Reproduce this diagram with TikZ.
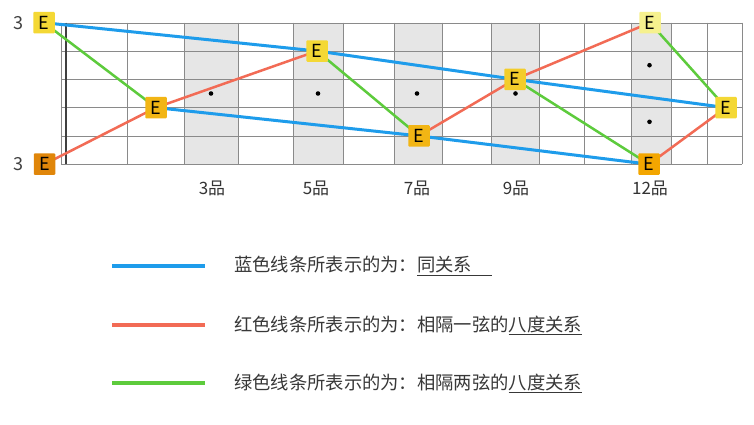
\documentclass[tikz,border=0pt]{standalone}
\usepackage{fontspec}
\setmainfont{Noto Sans CJK SC}
\usetikzlibrary{backgrounds}
\definecolor{lineblue}{HTML}{1E9CEB}
\definecolor{linered}{HTML}{F26B55}
\definecolor{linegreen}{HTML}{5DCB3C}
\definecolor{gridgray}{HTML}{8A8A8A}
\definecolor{fretshade}{HTML}{E6E6E6}
\definecolor{eyellow}{HTML}{F4D835}
\definecolor{epale}{HTML}{F6F18E}
\definecolor{egold}{HTML}{F2B514}
\definecolor{eorange}{HTML}{F3A600}
\definecolor{edark}{HTML}{E0860A}

\begin{document}
\begin{tikzpicture}[x=1pt,y=-1pt,
  ebox/.style={minimum size=21.5pt,inner sep=0pt,rounded corners=1pt,font=\fontsize{18}{18}\selectfont},
  numlab/.style={font=\fontsize{18}{18}\selectfont,text=black!75},
  fretlab/.style={font=\fontsize{17}{17}\selectfont,text=black!80},
  legtext/.style={anchor=west,inner sep=0pt,font=\fontsize{18.3}{18.3}\selectfont,text=black!78},
  blueline/.style={lineblue,line width=3pt},
  redline/.style={linered,line width=2.5pt},
  greenline/.style={linegreen,line width=2.5pt}]
   \useasboundingbox (0,0) rectangle (754,424);
   \begin{scope}[on background layer]
   \fill [white] (0,0) rectangle (754,424);
   \fill [fretshade] (184,22.7) rectangle (238,164.2);
   \fill [fretshade] (292.7,22.7) rectangle (342.7,164.2);
   \fill [fretshade] (394,22.7) rectangle (441.7,164.2);
   \fill [fretshade] (491,22.7) rectangle (539.3,164.2);
   \fill [fretshade] (630.7,22.7) rectangle (670.7,164.2);
   \draw [gridgray] (61,22.7) -- (741.7,22.7);
   \draw [gridgray] (61,51) -- (741.7,51);
   \draw [gridgray] (61,79.3) -- (741.7,79.3);
   \draw [gridgray] (61,107.6) -- (741.7,107.6);
   \draw [gridgray] (61,135.9) -- (741.7,135.9);
   \draw [gridgray] (61,164.2) -- (741.7,164.2);
   \draw [gridgray] (61,22.7) -- (61,164.2);
   \draw [black!75, line width=2.5pt] (66,22.7) -- (66,164.2);
   \draw [gridgray] (127,22.7) -- (127,164.2);
   \draw [gridgray] (184,22.7) -- (184,164.2);
   \draw [gridgray] (238,22.7) -- (238,164.2);
   \draw [gridgray] (292.7,22.7) -- (292.7,164.2);
   \draw [gridgray] (342.7,22.7) -- (342.7,164.2);
   \draw [gridgray] (394,22.7) -- (394,164.2);
   \draw [gridgray] (441.7,22.7) -- (441.7,164.2);
   \draw [gridgray] (491,22.7) -- (491,164.2);
   \draw [gridgray] (539.3,22.7) -- (539.3,164.2);
   \draw [gridgray] (584,22.7) -- (584,164.2);
   \draw [gridgray] (630.7,22.7) -- (630.7,164.2);
   \draw [gridgray] (670.7,22.7) -- (670.7,164.2);
   \draw [gridgray] (707.3,22.7) -- (707.3,164.2);
   \draw [gridgray] (741.7,22.7) -- (741.7,164.2);
   \fill (211,93.5) circle (2.3);
   \fill (318,93.5) circle (2.3);
   \fill (417,93.5) circle (2.3);
   \fill (515.5,93.5) circle (2.3);
   \fill (649.5,65.2) circle (2.3);
   \fill (649.5,121.8) circle (2.3);
   \end{scope}
   \node [numlab] (topnum) at (18,22.7) {3};
   \node [numlab] (botnum) at (18,164.2) {3};
   \node [ebox, fill=eyellow] (eA) at (44,22.7) {E};
   \node [ebox, fill=edark] (eB) at (44.5,164.2) {E};
   \node [ebox, fill=egold] (eC) at (156,107.6) {E};
   \node [ebox, fill=eyellow] (eD) at (317,51) {E};
   \node [ebox, fill=egold] (eE) at (419,135.9) {E};
   \node [ebox, fill=eyellow!70!egold] (eF) at (515,79.3) {E};
   \node [ebox, fill=epale] (eG) at (650,22.7) {E};
   \node [ebox, fill=eyellow] (eH) at (726,107.6) {E};
   \node [ebox, fill=eorange] (eI) at (649,164.2) {E};
   \node [fretlab] (f3) at (212,188) {3品};
   \node [fretlab] (f5) at (316,188) {5品};
   \node [fretlab] (f7) at (417,188) {7品};
   \node [fretlab] (f9) at (516,188) {9品};
   \node [fretlab] (f12) at (650,188) {12品};
   \begin{scope}[on background layer]
   \draw [blueline] (eA.center) -- (eD.center) -- (eF.center) -- (eH.center);
   \draw [blueline] (eC.center) -- (eE.center) -- (eI.center);
   \draw [redline] (eB.center) -- (eC.center) -- (eD.center);
   \draw [redline] (eE.center) -- (eF.center) -- (eG.center);
   \draw [redline] (eI.center) -- (eH.center);
   \draw [greenline] (eA.center) -- (eC.center);
   \draw [greenline] (eD.center) -- (eE.center);
   \draw [greenline] (eF.center) -- (eI.center);
   \draw [greenline] (eG.center) -- (eH.center);
   \end{scope}
   \draw [lineblue, line width=4pt] (112,266) -- (205,266);
   \draw [linered, line width=4pt] (112,325) -- (205,325);
   \draw [linegreen, line width=4pt] (112,383) -- (205,383);
   \node [legtext] (bluetext) at (234,266) {蓝色线条所表示的为：\underline{同关系\hspace{1.1em}}};
   \node [legtext] (redtext) at (234,325) {红色线条所表示的为：相隔一弦的\underline{八度关系}};
   \node [legtext] (greentext) at (234,383) {绿色线条所表示的为：相隔两弦的\underline{八度关系}};
\end{tikzpicture}
\end{document}
